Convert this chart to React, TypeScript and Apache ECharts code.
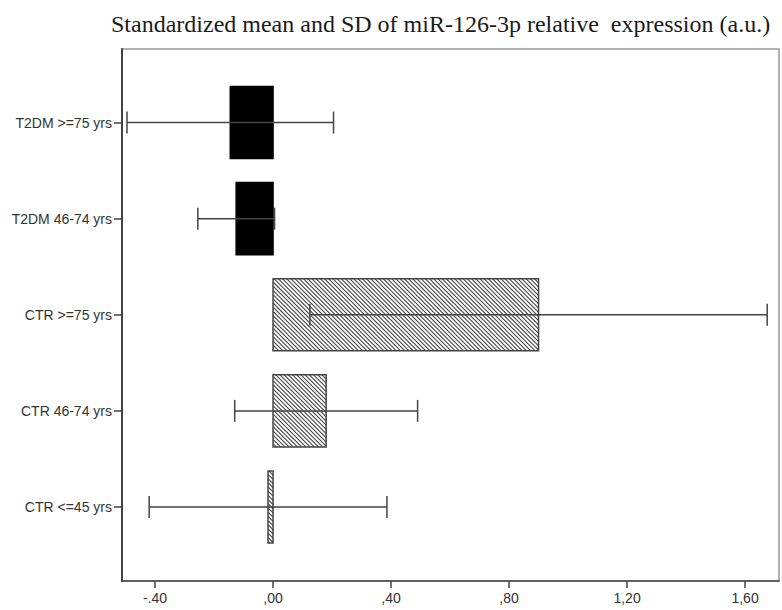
import React, { useEffect, useRef } from "react";
import * as echarts from "echarts";

const titleText = "Standardized mean and SD of miR-126-3p relative  expression (a.u.)";
const categories = ["T2DM >=75 yrs", "T2DM 46-74 yrs", "CTR >=75 yrs", "CTR 46-74 yrs", "CTR <=45 yrs"];
const means = [-0.145, -0.125, 0.9, 0.18, -0.017];
const sds = [0.35, 0.13, 0.775, 0.31, 0.403];
const fills = ["solid", "solid", "hatch", "hatch", "hatch"];
const xTickValues = [-0.4, 0, 0.4, 0.8, 1.2, 1.6];
const xTickLabels = ["-.40", ",00", ",40", ",80", "1,20", "1,60"];

export default function App() {
  const ref = useRef<HTMLDivElement>(null);
  useEffect(() => {
    const chart = echarts.init(ref.current!, null, { renderer: "svg" });
    const data = categories.map((c, i) => [means[i], i, sds[i], fills[i] === "hatch" ? 1 : 0]);
    const renderItem = (params: any, api: any) => {
      const mean = api.value(0);
      const idx = api.value(1);
      const sd = api.value(2);
      const hatch = api.value(3) === 1;
      const pTop = api.coord([0, idx - 0.375]);
      const pBot = api.coord([mean, idx + 0.375]);
      const x0 = Math.min(pTop[0], pBot[0]);
      const x1 = Math.max(pTop[0], pBot[0]);
      const y0 = Math.min(pTop[1], pBot[1]);
      const y1 = Math.max(pTop[1], pBot[1]);
      const children: any[] = [];
      children.push({
        type: "rect",
        shape: { x: x0, y: y0, width: x1 - x0, height: y1 - y0 },
        style: { fill: hatch ? "#fff" : "#000", stroke: hatch ? "#444" : "#000", lineWidth: 1.5 },
      });
      if (hatch) {
        const s = 4.2;
        for (let c = y0 - x1; c <= y1 - x0; c += s) {
          const xa = Math.max(x0, y0 - c);
          const xb = Math.min(x1, y1 - c);
          if (xb > xa) {
            children.push({
              type: "line",
              shape: { x1: xa, y1: xa + c, x2: xb, y2: xb + c },
              style: { stroke: "#444", lineWidth: 1.1 },
            });
          }
        }
      }
      const c = api.coord([mean, idx]);
      const l = api.coord([mean - sd, idx]);
      const r = api.coord([mean + sd, idx]);
      const capH = 11;
      const es = { stroke: "#444", lineWidth: 1.5 };
      children.push({ type: "line", shape: { x1: l[0], y1: c[1], x2: r[0], y2: c[1] }, style: es });
      children.push({ type: "line", shape: { x1: l[0], y1: c[1] - capH, x2: l[0], y2: c[1] + capH }, style: es });
      children.push({ type: "line", shape: { x1: r[0], y1: c[1] - capH, x2: r[0], y2: c[1] + capH }, style: es });
      return { type: "group", children };
    };
    chart.setOption({
      animation: false,
      backgroundColor: "#fff",
      title: {
        text: titleText,
        left: 106,
        top: 7,
        textStyle: { fontFamily: "Liberation Serif", fontWeight: "normal", fontSize: 24, color: "#1a1a1a" },
      },
      grid: { left: 122, right: 3, top: 49, bottom: 29, show: true, borderColor: "#999", borderWidth: 1.5 },
      xAxis: {
        type: "value",
        min: -0.512,
        max: 1.715,
        splitLine: { show: false },
        axisLine: { onZero: false, lineStyle: { color: "#444", width: 1.5 } },
        axisTick: { show: true, length: 7, customValues: xTickValues, lineStyle: { color: "#444", width: 1.5 } },
        axisLabel: {
          customValues: xTickValues,
          margin: 10,
          fontFamily: "Liberation Sans",
          fontSize: 14,
          color: "#333",
          formatter: (v: number) => {
            const i = xTickValues.findIndex((t) => Math.abs(t - v) < 1e-6);
            return i >= 0 ? xTickLabels[i] : "";
          },
        },
      },
      yAxis: {
        type: "value",
        inverse: true,
        min: -0.765,
        max: 4.77,
        splitLine: { show: false },
        axisLine: { onZero: false, lineStyle: { color: "#444", width: 2 } },
        axisTick: { show: true, length: 8, customValues: [0, 1, 2, 3, 4], lineStyle: { color: "#444", width: 1.5 } },
        axisLabel: {
          customValues: [0, 1, 2, 3, 4],
          margin: 10,
          fontFamily: "Liberation Sans",
          fontSize: 14,
          color: "#333",
          formatter: (v: number) => categories[Math.round(v)] ?? "",
        },
      },
      series: [
        {
          type: "custom",
          renderItem,
          clip: false,
          encode: { x: 0, y: 1 },
          data,
        },
      ],
    });
    return () => chart.dispose();
  }, []);
  return <div ref={ref} style={{ position: "fixed", left: 0, top: 0, width: 782, height: 610 }} />;
}
